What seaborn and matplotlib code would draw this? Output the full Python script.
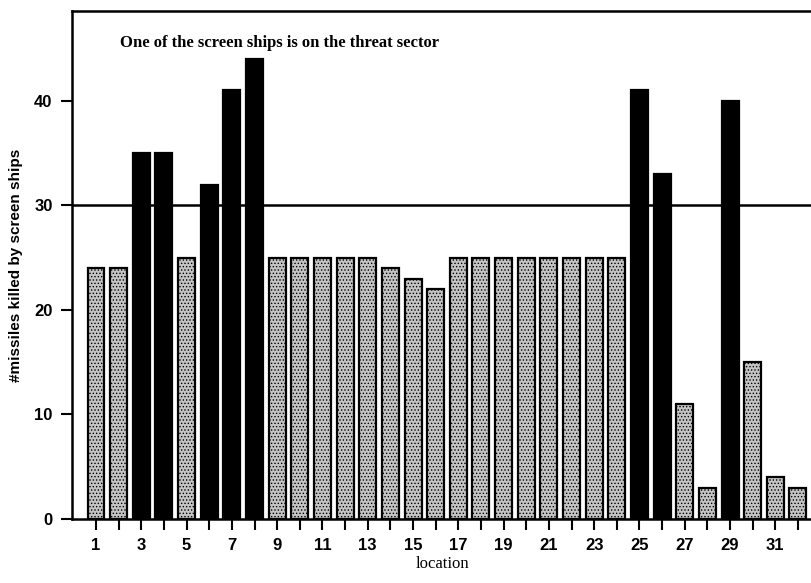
import pandas as pd
import matplotlib.pyplot as plt
import seaborn as sns

# =============================================================================
# Data
# =============================================================================
locations = list(range(1, 33))
missiles_killed = [24, 24, 35, 35, 25, 32, 41, 44, 25, 25,
                   25, 25, 25, 24, 23, 22, 25, 25, 25, 25,
                   25, 25, 25, 25, 41, 33, 11, 3, 40, 15,
                   4, 3]
# black bars = one of the screen ships sits on the threat sector
on_threat_sector = [0, 0, 1, 1, 0, 1, 1, 1, 0, 0,
                    0, 0, 0, 0, 0, 0, 0, 0, 0, 0,
                    0, 0, 0, 0, 1, 1, 0, 0, 1, 0,
                    0, 0]
threshold = 30

df = pd.DataFrame({'location': locations,
                   'killed': missiles_killed,
                   'threat': ['yes' if t else 'no' for t in on_threat_sector]})

# =============================================================================
# Plot
# =============================================================================
sns.set_theme(style='white')
plt.rcParams['font.family'] = ['Liberation Sans', 'DejaVu Sans']
plt.rcParams['text.color'] = 'black'
plt.rcParams['axes.labelcolor'] = 'black'
plt.rcParams['xtick.color'] = 'black'
plt.rcParams['ytick.color'] = 'black'
plt.rcParams['hatch.color'] = '#707070'
plt.rcParams['hatch.linewidth'] = 0.6

fig = plt.figure(figsize=(8.12, 5.83), dpi=100)
ax = fig.add_axes([72 / 812, 64 / 583, 740 / 812, 508 / 583])

sns.barplot(data=df, x='location', y='killed', hue='threat',
            palette={'yes': 'black', 'no': '#c4c4c4'},
            dodge=False, legend=False, width=0.75,
            edgecolor='black', linewidth=1.6, ax=ax)

# stipple the grey bars a bit like the scanned halftone
for bar in ax.patches:
    if bar.get_facecolor()[0] > 0.5:
        bar.set_hatch('.....')

ax.axhline(threshold, color='black', linewidth=1.8, zorder=3)

ax.set_xlim(-1.06, 31.62)
ax.set_ylim(0, 48.6)
ax.set_yticks([0, 10, 20, 30, 40])
ax.set_xticks(range(len(locations)))
ax.set_xticklabels([str(l) if l % 2 == 1 else '' for l in locations])

ax.tick_params(axis='both', which='major', direction='out', length=8, width=1.5,
               color='black', labelcolor='black', labelsize=12, pad=6,
               bottom=True, left=True)
for lbl in ax.get_xticklabels() + ax.get_yticklabels():
    lbl.set_fontweight('bold')

for side in ['left', 'top', 'bottom']:
    ax.spines[side].set_color('black')
    ax.spines[side].set_linewidth(1.8)
ax.spines['right'].set_visible(False)

ax.set_xlabel('location', fontfamily=['Liberation Serif', 'DejaVu Serif'],
              fontsize=12, labelpad=2, color='black')
ax.set_ylabel('#missiles killed by screen ships',
              fontfamily=['Liberation Sans Narrow', 'Liberation Sans', 'DejaVu Sans'],
              fontweight='bold', fontsize=11, labelpad=8, color='black')

ax.text(48 / 740, 0.937,
        'One of the screen ships is on the threat sector',
        transform=ax.transAxes, fontfamily=['Liberation Serif', 'DejaVu Serif'],
        fontweight='bold', fontsize=12, ha='left', va='center', color='black')

plt.savefig('out.png', dpi=100)
